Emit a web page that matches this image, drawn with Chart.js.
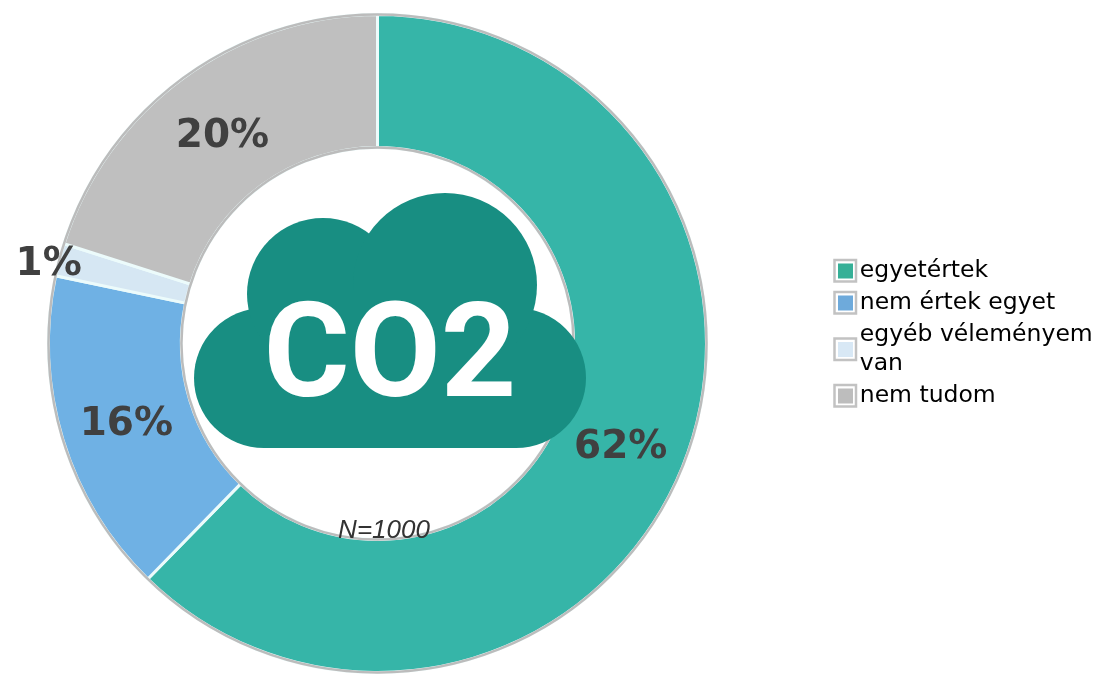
<!DOCTYPE html>
<html><head><meta charset="utf-8">
<style>html,body{margin:0;padding:0;background:#fff;overflow:hidden}canvas{display:block}</style>
<script src="https://cdn.jsdelivr.net/npm/chart.js@4"></script>
</head><body>
<canvas id="c" width="1094" height="674"></canvas>
<script>
const categories = ['egyetértek', 'nem értek egyet', ['egyéb véleményem', 'van'], 'nem tudom'];
const shares = [62.3, 16.0, 1.6, 20.1];
const valueLabels = ['62%', '16%', '1%', '20%'];
const sliceColors = ['#36b5a8', '#6fb1e4', '#d6e7f3', '#bfbfbf'];
const swatchColors = ['#36b097', '#6eaadb', '#d8e8f5', '#bdbdbd'];
const sampleNote = 'N=1000';
const cloudLabel = 'CO2';

const placement = {
  id: 'placement',
  afterLayout(chart) {
    const a = chart.chartArea;
    a.left = 47; a.right = 708; a.top = 13; a.bottom = 674;
    a.width = 661; a.height = 661;
    const l = chart.legend;
    l.left = 845; l.right = 1094; l.top = 253; l.bottom = 415;
  }
};

const overlay = {
  id: 'overlay',
  afterDatasetsDraw(chart) {
    const ctx = chart.ctx;
    const arcs = chart.getDatasetMeta(0).data;
    const cx = arcs[0].x, cy = arcs[0].y;
    const R = arcs[0].outerRadius, r = arcs[0].innerRadius;
    ctx.save();
    ctx.strokeStyle = '#bcbcbc'; ctx.lineWidth = 2.5;
    [R, r].forEach(v => { ctx.beginPath(); ctx.arc(cx, cy, v, 0, Math.PI * 2); ctx.stroke(); });

    ctx.fillStyle = '#188e82';
    [[264, 378, 70], [516, 378, 70], [323, 294, 76], [445, 285, 92]].forEach(([x, y, q]) => {
      ctx.beginPath(); ctx.arc(x, y, q, 0, Math.PI * 2); ctx.fill();
    });
    ctx.fillRect(264, 290, 252, 158);

    ctx.fillStyle = '#fff';
    ctx.font = '700 132px Roboto';
    ctx.textAlign = 'center'; ctx.textBaseline = 'alphabetic';
    ctx.fillText(cloudLabel, 390, 396);

    ctx.font = 'italic 26px "Liberation Sans"';
    ctx.fillStyle = '#333';
    ctx.fillText(sampleNote, 384, 538);

    ctx.font = 'bold 39px "DejaVu Sans"';
    ctx.fillStyle = '#404040';
    ctx.textBaseline = 'middle';
    arcs.forEach((arc, i) => {
      const p = arc.tooltipPosition();
      const outside = shares[i] < 5;
      const k = outside ? 340 / Math.hypot(p.x - cx, p.y - cy) : 1;
      ctx.fillText(valueLabels[i], cx + (p.x - cx) * k, cy + (p.y - cy) * k + (outside ? 8 : 5));
    });

    // legend swatches, stacked the same way the legend stacks its rows
    let y = chart.legend.top + 3;
    categories.forEach((t, i) => {
      const h = (Array.isArray(t) ? t.length : 1) * 29;
      const mid = y + h / 2;
      ctx.fillStyle = '#fff';
      ctx.fillRect(833, mid - 12, 24, 24);
      ctx.strokeStyle = '#c2c2c2'; ctx.lineWidth = 2.5;
      ctx.strokeRect(834.5, mid - 10.5, 21.5, 21.5);
      ctx.fillStyle = swatchColors[i];
      ctx.fillRect(838, mid - 7, 15, 15);
      y += h + 3;
    });
    ctx.restore();
  }
};

new Chart(document.getElementById('c'), {
  type: 'doughnut',
  data: {
    labels: categories,
    datasets: [{
      data: shares,
      backgroundColor: sliceColors,
      borderColor: '#ecfbfb',
      borderWidth: 3
    }]
  },
  options: {
    responsive: false,
    animation: false,
    cutout: '59.6%',
    plugins: {
      tooltip: { enabled: false },
      title: { display: false },
      legend: {
        position: 'right',
        align: 'start',
        labels: {
          boxWidth: 0,
          boxHeight: 29,
          padding: 3,
          color: '#4a4a4a',
          font: { family: '"DejaVu Sans"', size: 23.5, lineHeight: '29px' },
          generateLabels: () => categories.map((t, i) => ({
            text: t, fillStyle: 'rgba(0,0,0,0)', strokeStyle: 'rgba(0,0,0,0)', lineWidth: 0,
            index: i, hidden: false
          }))
        }
      }
    }
  },
  plugins: [placement, overlay]
});
</script>
</body></html>
